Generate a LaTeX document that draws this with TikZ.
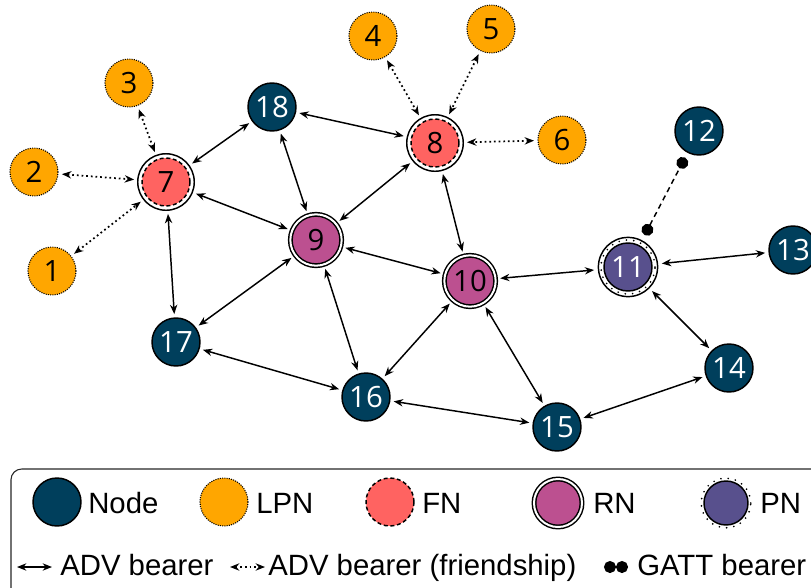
\documentclass[tikz,border=0pt]{standalone}
\usepackage{fontspec}
\setmainfont{Liberation Sans}
\newfontfamily\numfont{Open Sans}
\usetikzlibrary{arrows.meta}

\definecolor{nodeblue}{HTML}{003F5C}
\definecolor{lpnorange}{HTML}{FFA600}
\definecolor{fnred}{HTML}{FF6361}
\definecolor{rnpink}{HTML}{BC5090}
\definecolor{pnpurple}{HTML}{58508D}

\tikzset{
  dev/.style={circle, draw=black, line width=1.1pt, minimum size=36pt, inner sep=0pt, outer sep=3pt, font=\numfont\fontsize{22}{24}\selectfont},
  plain/.style={dev, fill=nodeblue, text=white},
  lpn/.style={dev, fill=lpnorange, line width=0.8pt, dash pattern=on 0.8pt off 0.9pt},
  fn/.style={dev, fill=fnred, dash pattern=on 3pt off 2pt, outer sep=6pt},
  rn/.style={dev, fill=rnpink, double, double distance=1.5pt, minimum size=38.5pt, outer sep=3.5pt},
  pn/.style={dev, fill=pnpurple, text=white, outer sep=7.5pt},
  ring/.style={draw=black, line width=1.1pt},
  dotring/.style={draw=black, line width=1.4pt, dash pattern=on 0pt off 5.5pt, line cap=round},
  adv/.style={<->, line width=1.1pt},
  friend/.style={<->, line width=1.3pt, dash pattern=on 1.3pt off 2.2pt},
  gatt/.style={{Circle[length=9pt]}-{Circle[length=9pt]}, line width=1.1pt, dash pattern=on 4pt off 3pt},
  legtext/.style={anchor=base west, inner sep=0pt, font=\fontsize{22}{26}\selectfont}
}

\begin{document}
\begin{tikzpicture}[x=0.75pt, y=-0.75pt, >={Stealth[length=7pt, width=5.5pt]}]
\useasboundingbox (0,0) rectangle (811,587);

% Low power nodes (orange)
\node[lpn] (n1) at (52,271) {1};
\node[lpn] (n2) at (34,172) {2};
\node[lpn] (n3) at (129,83) {3};
\node[lpn] (n4) at (373,36) {4};
\node[lpn] (n5) at (491,29) {5};
\node[lpn] (n6) at (562,140) {6};

% Friend nodes (red)
\node[fn] (n7) at (166,182) {7};
\node[fn] (n8) at (435,143) {8};
\draw[ring] (n7.center) circle[radius=21.2pt];
\draw[ring] (n8.center) circle[radius=21.2pt];

% Relay nodes (pink)
\node[rn] (n9) at (316,240) {9};
\node[rn] (n10) at (470,281) {10};

% Proxy node (purple)
\node[pn] (n11) at (628,267) {11};
\draw[dotring] (n11.center) circle[radius=20.3pt];
\draw[ring] (n11.center) circle[radius=22.2pt];

% Plain nodes (blue)
\node[plain] (n12) at (699,131) {12};
\node[plain] (n13) at (793,250) {13};
\node[plain] (n14) at (729,368) {14};
\node[plain] (n15) at (557,427) {15};
\node[plain] (n16) at (366,397) {16};
\node[plain] (n17) at (176,342) {17};
\node[plain] (n18) at (272,107) {18};

% Friendship bearers
\draw[friend] (n1) -- (n7);
\draw[friend] (n2) -- (n7);
\draw[friend] (n3) -- (n7);
\draw[friend] (n4) -- (n8);
\draw[friend] (n5) -- (n8);
\draw[friend] (n6) -- (n8);

% ADV bearers
\draw[adv] (n7) -- (n18);
\draw[adv] (n7) -- (n9);
\draw[adv] (n7) -- (n17);
\draw[adv] (n18) -- (n8);
\draw[adv] (n18) -- (n9);
\draw[adv] (n8) -- (n9);
\draw[adv] (n8) -- (n10);
\draw[adv] (n9) -- (n10);
\draw[adv] (n9) -- (n17);
\draw[adv] (n9) -- (n16);
\draw[adv] (n10) -- (n16);
\draw[adv] (n10) -- (n15);
\draw[adv] (n10) -- (n11);
\draw[adv] (n11) -- (n13);
\draw[adv] (n11) -- (n14);
\draw[adv] (n17) -- (n16);
\draw[adv] (n16) -- (n15);
\draw[adv] (n15) -- (n14);

% GATT bearer
\draw[gatt, shorten <=1.5pt, shorten >=1.5pt] (n11) -- (n12);

% Legend
\draw[line width=0.8pt, black!85, rounded corners=8pt] (11,469) rectangle (840,620);

\node[plain] (kNode) at (57,502) {};
\node[legtext] (tNode) at (88,513) {Node};
\node[lpn] (kLPN) at (224,502) {};
\node[legtext] (tLPN) at (256,513) {LPN};
\node[fn] (kFN) at (390,502) {};
\node[legtext] (tFN) at (422,513) {FN};
\node[rn, minimum size=36pt] (kRN) at (558,503) {};
\node[legtext] (tRN) at (593,513) {RN};
\node[pn, minimum size=33pt] (kPN) at (726,503) {};
\draw[dotring] (kPN.center) circle[radius=18.6pt];
\node[legtext] (tPN) at (760,513) {PN};

\coordinate (advA) at (17,567);
\coordinate (advB) at (52,567);
\draw[adv] (advA) -- (advB);
\node[legtext] (tAdv) at (60,575) {ADV bearer};

\coordinate (friA) at (230,567);
\coordinate (friB) at (265,567);
\draw[friend] (friA) -- (friB);
\node[legtext] (tFri) at (268,575) {ADV bearer (friendship)};

\coordinate (gattA) at (604,567);
\coordinate (gattB) at (628,567);
\draw[gatt] (gattA) -- (gattB);
\node[legtext] (tGatt) at (637,575) {GATT bearer};

\end{tikzpicture}
\end{document}
